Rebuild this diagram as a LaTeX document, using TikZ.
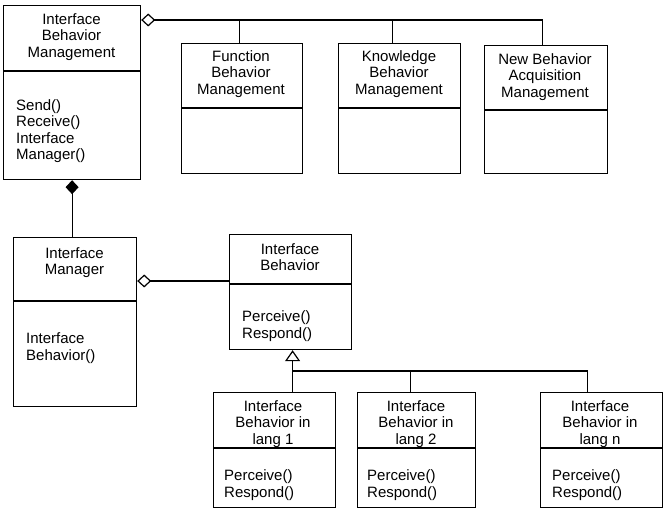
\documentclass[tikz,border=0pt]{standalone}
\usepackage{fontspec}
\setmainfont{Liberation Sans}
\usetikzlibrary{arrows.meta,calc}

\tikzset{
  classbox/.style={draw, line width=1.2pt, rectangle, inner sep=0pt, anchor=north west},
  titletext/.style={align=center, inner sep=0pt, font=\fontsize{15}{16.5}\selectfont},
  bodytext/.style={align=left, inner sep=0pt, anchor=west, font=\fontsize{15}{16.5}\selectfont},
  link/.style={line width=1.2pt},
  aggr/.style={link, {Diamond[open, length=14pt, width=13pt, line width=1.2pt]}-},
  compo/.style={link, {Diamond[length=14pt, width=13pt]}-},
  inherit/.style={link, {Triangle[open, length=11pt, width=15pt, line width=1.2pt]}-},
}

% class box: name, left, top, right, bottom, divider y
\newcommand{\umlbox}[6]{%
  \node[classbox, minimum width={(#4-#2)*1pt}, minimum height={(#5-#3)*1pt}] (#1) at (#2,#3) {};
  \draw[link] ($(#1.north west)+(0,#6-#3)$) -- ($(#1.north east)+(0,#6-#3)$);
}

\begin{document}
\begin{tikzpicture}[x=1pt, y=-1pt]
\useasboundingbox (0,0) rectangle (663,510);

% classes
\umlbox{ibm}{3}{5}{140}{179}{71}
\umlbox{fbm}{181}{43}{302}{173}{108}
\umlbox{kbm}{338}{43}{460}{173}{108}
\umlbox{nbam}{484}{45}{607}{173}{110}
\umlbox{im}{13}{237}{136}{406}{301}
\umlbox{ib}{229}{234}{351}{349}{284}
\umlbox{lone}{213}{392}{335}{507}{448}
\umlbox{ltwo}{357}{392}{475}{507}{448}
\umlbox{lnn}{540}{392}{662}{507}{448}

% class names
\node[titletext] (ibm-t) at (71.5,37) {Interface\\Behavior\\Management};
\node[titletext] (fbm-t) at (241,74) {Function\\Behavior\\Management};
\node[titletext] (kbm-t) at (399,74) {Knowledge\\Behavior\\Management};
\node[titletext] (nbam-t) at (545,77) {New Behavior\\Acquisition\\Management};
\node[titletext] (im-t) at (74.5,262.5) {Interface\\Manager};
\node[titletext] (ib-t) at (290,257) {Interface\\Behavior};
\node[titletext] (lone-t) at (273,424) {Interface\\Behavior in\\lang 1};
\node[titletext] (ltwo-t) at (416,424) {Interface\\Behavior in\\lang 2};
\node[titletext] (lnn-t) at (600,424) {Interface\\Behavior in\\lang n};

% operations
\node[bodytext] (ibm-b) at (16,131) {Send()\\Receive()\\Interface\\Manager()};
\node[bodytext] (im-b) at (26,348) {Interface\\Behavior()};
\node[bodytext] (ib-b) at (242,326) {Perceive()\\Respond()};
\node[bodytext] (lone-b) at (224,485) {Perceive()\\Respond()};
\node[bodytext] (ltwo-b) at (367,485) {Perceive()\\Respond()};
\node[bodytext] (lnn-b) at (552,485) {Perceive()\\Respond()};

% aggregation of the three management classes
\coordinate (busA) at (0,20);
\coordinate (fbtop) at ([xshift=-2.5pt]fbm.north);
\coordinate (kbtop) at ([xshift=-7pt]kbm.north);
\coordinate (nbtop) at ([xshift=-3.5pt]nbam.north);
\draw[aggr] (ibm.east |- busA) -- (nbtop |- busA) -- (nbtop);
\draw[link] (fbtop |- busA) -- (fbtop);
\draw[link] (kbtop |- busA) -- (kbtop);

% composition: management owns the interface manager
\draw[compo] (ibm.south) -- (ibm.south |- im.north);

% aggregation: manager holds interface behaviors
\coordinate (aggY) at (0,281);
\draw[aggr] (im.east |- aggY) -- (ib.west |- aggY);

% generalisation: language-specific behaviors
\coordinate (busB) at (0,371);
\coordinate (l2top) at ([xshift=-6pt]ltwo.north);
\coordinate (lntop) at ([xshift=-14pt]lnn.north);
\draw[inherit] ([xshift=2pt]ib.south) -- ([xshift=2pt]ib.south |- lone.north);
\draw[link] ([xshift=2pt]ib.south |- busB) -- (lntop |- busB) -- (lntop);
\draw[link] (l2top |- busB) -- (l2top);
\end{tikzpicture}
\end{document}
